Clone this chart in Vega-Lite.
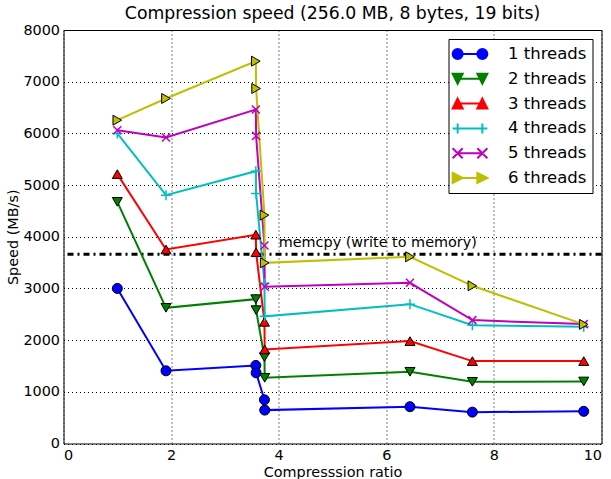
{
  "$schema": "https://vega.github.io/schema/vega-lite/v6.json",
  "width": 538,
  "height": 413.5,
  "autosize": {"type": "none"},
  "padding": {"left": 63.5, "top": 30, "right": 9.5, "bottom": 35.5},
  "title": {"text": "Compression speed (256.0 MB, 8 bytes, 19 bits)", "fontSize": 17.28, "font": "DejaVu Sans", "fontWeight": "normal", "offset": 6, "dy": 6.5, "anchor": "middle", "color": "black"},
  "config": {
    "view": {"stroke": "black", "strokeWidth": 1},
    "font": "DejaVu Sans",
    "axis": {
      "labelFont": "DejaVu Sans", "titleFont": "DejaVu Sans",
      "labelFontSize": 14.4, "titleFontSize": 14.4, "titleFontWeight": "normal",
      "labelColor": "black", "titleColor": "black",
      "domain": false, "ticks": false,
      "grid": true, "gridColor": "black", "gridOpacity": 1, "gridDash": [1, 3], "gridWidth": 1
    }
  },
  "datasets": {
    "speed": [
      {"s": "1 threads", "i": 1, "x": 1.0, "y": 3000},
      {"s": "1 threads", "i": 2, "x": 1.905, "y": 1406},
      {"s": "1 threads", "i": 3, "x": 3.575, "y": 1510},
      {"s": "1 threads", "i": 4, "x": 3.58, "y": 1368},
      {"s": "1 threads", "i": 5, "x": 3.735, "y": 845},
      {"s": "1 threads", "i": 6, "x": 3.74, "y": 646},
      {"s": "1 threads", "i": 7, "x": 6.44, "y": 712},
      {"s": "1 threads", "i": 8, "x": 7.6, "y": 607},
      {"s": "1 threads", "i": 9, "x": 9.67, "y": 622},
      {"s": "2 threads", "i": 1, "x": 1.0, "y": 4675},
      {"s": "2 threads", "i": 2, "x": 1.905, "y": 2625},
      {"s": "2 threads", "i": 3, "x": 3.575, "y": 2793},
      {"s": "2 threads", "i": 4, "x": 3.58, "y": 2580},
      {"s": "2 threads", "i": 5, "x": 3.735, "y": 1670},
      {"s": "2 threads", "i": 6, "x": 3.74, "y": 1271},
      {"s": "2 threads", "i": 7, "x": 6.44, "y": 1387},
      {"s": "2 threads", "i": 8, "x": 7.6, "y": 1194},
      {"s": "2 threads", "i": 9, "x": 9.67, "y": 1200},
      {"s": "3 threads", "i": 1, "x": 1.0, "y": 5211},
      {"s": "3 threads", "i": 2, "x": 1.905, "y": 3754},
      {"s": "3 threads", "i": 3, "x": 3.575, "y": 4040},
      {"s": "3 threads", "i": 4, "x": 3.58, "y": 3700},
      {"s": "3 threads", "i": 5, "x": 3.735, "y": 2354},
      {"s": "3 threads", "i": 6, "x": 3.74, "y": 1820},
      {"s": "3 threads", "i": 7, "x": 6.44, "y": 1981},
      {"s": "3 threads", "i": 8, "x": 7.6, "y": 1594},
      {"s": "3 threads", "i": 9, "x": 9.67, "y": 1594},
      {"s": "4 threads", "i": 1, "x": 1.0, "y": 5998},
      {"s": "4 threads", "i": 2, "x": 1.905, "y": 4805},
      {"s": "4 threads", "i": 3, "x": 3.575, "y": 5269},
      {"s": "4 threads", "i": 4, "x": 3.58, "y": 4838},
      {"s": "4 threads", "i": 5, "x": 3.735, "y": 3100},
      {"s": "4 threads", "i": 6, "x": 3.74, "y": 2460},
      {"s": "4 threads", "i": 7, "x": 6.44, "y": 2696},
      {"s": "4 threads", "i": 8, "x": 7.6, "y": 2290},
      {"s": "4 threads", "i": 9, "x": 9.67, "y": 2257},
      {"s": "5 threads", "i": 1, "x": 1.0, "y": 6062},
      {"s": "5 threads", "i": 2, "x": 1.905, "y": 5921},
      {"s": "5 threads", "i": 3, "x": 3.575, "y": 6462},
      {"s": "5 threads", "i": 4, "x": 3.58, "y": 5952},
      {"s": "5 threads", "i": 5, "x": 3.735, "y": 3830},
      {"s": "5 threads", "i": 6, "x": 3.74, "y": 3031},
      {"s": "5 threads", "i": 7, "x": 6.44, "y": 3109},
      {"s": "5 threads", "i": 8, "x": 7.6, "y": 2387},
      {"s": "5 threads", "i": 9, "x": 9.67, "y": 2310},
      {"s": "6 threads", "i": 1, "x": 1.0, "y": 6255},
      {"s": "6 threads", "i": 2, "x": 1.905, "y": 6675},
      {"s": "6 threads", "i": 3, "x": 3.575, "y": 7397},
      {"s": "6 threads", "i": 4, "x": 3.58, "y": 6868},
      {"s": "6 threads", "i": 5, "x": 3.735, "y": 4418},
      {"s": "6 threads", "i": 6, "x": 3.74, "y": 3495},
      {"s": "6 threads", "i": 7, "x": 6.44, "y": 3612},
      {"s": "6 threads", "i": 8, "x": 7.6, "y": 3051},
      {"s": "6 threads", "i": 9, "x": 9.67, "y": 2304}
    ],
    "memcpy": [{"y": 3663}],
    "note": [{"x": 4.0, "y": 3876, "label": "memcpy (write to memory)"}]
  },
  "encoding": {
    "x": {"field": "x", "type": "quantitative", "scale": {"domain": [0, 10], "nice": false, "zero": false},
      "axis": {"values": [0, 2, 4, 6, 8, 10], "title": "Compresssion ratio", "labelPadding": 5, "titlePadding": 4, "format": "d"}},
    "y": {"field": "y", "type": "quantitative", "scale": {"domain": [0, 8000], "nice": false},
      "axis": {"values": [0, 1000, 2000, 3000, 4000, 5000, 6000, 7000, 8000], "title": "Speed (MB/s)", "labelPadding": 4, "titlePadding": 2, "format": "d"}}
  },
  "layer": [
    {
      "data": {"name": "memcpy"},
      "mark": {"type": "rule", "color": "black", "strokeWidth": 3, "strokeDash": [6, 4, 2, 4]},
      "encoding": {"x": null, "y": {"field": "y", "type": "quantitative"}}
    },
    {
      "data": {"name": "note"},
      "mark": {"type": "text", "align": "left", "baseline": "middle", "fontSize": 14.4, "font": "DejaVu Sans", "color": "black"},
      "encoding": {"text": {"field": "label"}}
    },
    {
      "data": {"name": "speed"},
      "mark": {"type": "line", "strokeWidth": 2},
      "encoding": {
        "order": {"field": "i", "type": "quantitative"},
        "color": {"field": "s", "type": "nominal",
          "scale": {"domain": ["1 threads", "2 threads", "3 threads", "4 threads", "5 threads", "6 threads"],
                    "range": ["#0000ff", "#008000", "#ff0000", "#00bfbf", "#bf00bf", "#bfbf00"]},
          "legend": {
            "title": null, "orient": "top-right", "offset": 9,
            "labelFont": "DejaVu Sans", "labelFontSize": 16.5, "labelColor": "black",
            "strokeColor": "black", "fillColor": "white", "padding": 5.5, "cornerRadius": 0,
            "rowPadding": 5.8, "symbolSize": 289, "symbolOffset": 6.5, "labelOffset": 28.5,
            "symbolStrokeWidth": 2,
            "encode": {
              "symbols": {
                "update": {
                  "shape": {"signal": "['M-1.453,0L1.453,0M-0.865,0C-0.865,0.325,-1.128,0.588,-1.453,0.588C-1.778,0.588,-2.041,0.325,-2.041,0C-2.041,-0.325,-1.778,-0.588,-1.453,-0.588C-1.128,-0.588,-0.865,-0.325,-0.865,0ZM2.041,0C2.041,0.325,1.778,0.588,1.453,0.588C1.128,0.588,0.865,0.325,0.865,0C0.865,-0.325,1.128,-0.588,1.453,-0.588C1.778,-0.588,2.041,-0.325,2.041,0Z', 'M-1.453,0L1.453,0M-2.041,-0.588L-0.865,-0.588L-1.453,0.588ZM0.865,-0.588L2.041,-0.588L1.453,0.588Z', 'M-1.453,0L1.453,0M-1.453,-0.588L-0.865,0.588L-2.041,0.588ZM1.453,-0.588L2.041,0.588L0.865,0.588Z', 'M-2.041,0L2.041,0M-1.453,-0.588L-1.453,0.588M1.453,-0.588L1.453,0.588', 'M-1.453,0L1.453,0M-2.041,-0.588L-0.865,0.588M-2.041,0.588L-0.865,-0.588M0.865,-0.588L2.041,0.588M0.865,0.588L2.041,-0.588', 'M-1.453,0L1.453,0M-2.041,-0.588L-0.865,0L-2.041,0.588ZM0.865,-0.588L2.041,0L0.865,0.588Z'][toNumber(substring(datum.value, 0, 1)) - 1]"},
                  "fill": {"signal": "scale('color', datum.value)"},
                  "stroke": {"signal": "scale('color', datum.value)"},
                  "strokeWidth": {"value": 2},
                  "opacity": {"value": 1}
                }
              }
            }
          }
        }
      }
    },
    {
      "data": {"name": "speed"},
      "transform": [{"filter": "datum.s === '1 threads'"}],
      "mark": {"type": "point", "shape": "circle", "filled": true, "stroke": "black", "strokeWidth": 1, "size": 100, "opacity": 1},
      "encoding": {"color": {"field": "s", "type": "nominal"}}
    },
    {
      "data": {"name": "speed"},
      "transform": [{"filter": "datum.s === '2 threads'"}],
      "mark": {"type": "point", "shape": "triangle-down", "filled": true, "stroke": "black", "strokeWidth": 1, "size": 100, "opacity": 1},
      "encoding": {"color": {"field": "s", "type": "nominal"}}
    },
    {
      "data": {"name": "speed"},
      "transform": [{"filter": "datum.s === '3 threads'"}],
      "mark": {"type": "point", "shape": "triangle-up", "filled": true, "stroke": "black", "strokeWidth": 1, "size": 100, "opacity": 1},
      "encoding": {"color": {"field": "s", "type": "nominal"}}
    },
    {
      "data": {"name": "speed"},
      "transform": [{"filter": "datum.s === '4 threads'"}],
      "mark": {"type": "point", "shape": "M-1,0L1,0M0,-1L0,1", "filled": false, "strokeWidth": 1.5, "size": 100, "opacity": 1},
      "encoding": {"color": {"field": "s", "type": "nominal"}}
    },
    {
      "data": {"name": "speed"},
      "transform": [{"filter": "datum.s === '5 threads'"}],
      "mark": {"type": "point", "shape": "M-0.8,-0.8L0.8,0.8M-0.8,0.8L0.8,-0.8", "filled": false, "strokeWidth": 1.5, "size": 100, "opacity": 1},
      "encoding": {"color": {"field": "s", "type": "nominal"}}
    },
    {
      "data": {"name": "speed"},
      "transform": [{"filter": "datum.s === '6 threads'"}],
      "mark": {"type": "point", "shape": "triangle-right", "filled": true, "stroke": "black", "strokeWidth": 1, "size": 100, "opacity": 1},
      "encoding": {"color": {"field": "s", "type": "nominal"}}
    }
  ]
}
